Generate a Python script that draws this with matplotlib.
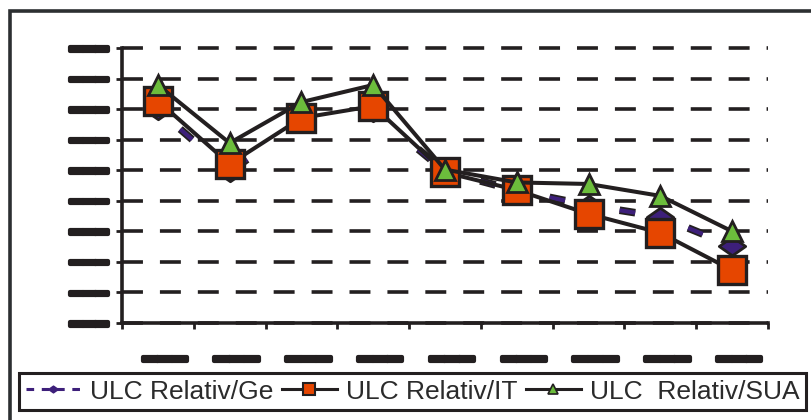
import numpy as np
import matplotlib.pyplot as plt
import matplotlib.patheffects as pe
import matplotlib.transforms as mtransforms
from matplotlib.lines import Line2D
from matplotlib.patches import Rectangle
from matplotlib.path import Path

# category / axis labels (rendered as solid bars)
periods = ["━━━"] * 9
y_ticks = [0, 1, 2, 3, 4, 5, 6, 7, 8, 9]
y_tick_labels = ["━━━"] * 10

# series
ulc_ge = [6.98, 4.94, 6.65, 6.91, 4.96, 4.33, 3.85, 3.48, 2.52]
ulc_it = [7.27, 5.20, 6.71, 7.10, 4.93, 4.35, 3.57, 2.95, 1.73]
ulc_sua = [7.79, 5.89, 7.23, 7.79, 5.02, 4.60, 4.55, 4.16, 3.00]
series_labels = ["ULC Relativ/Ge", "ULC Relativ/IT", "ULC  Relativ/SUA"]

DARK = "#231f20"
PURPLE = "#3d1f7a"
ORANGE = "#e64600"
GREEN = "#6cbd3c"

plt.rcParams["font.family"] = ["Liberation Sans", "DejaVu Sans"]

diamond = Path([(-1, 0), (0, 0.7), (1, 0), (0, -0.7), (-1, 0)],
               [Path.MOVETO, Path.LINETO, Path.LINETO, Path.LINETO, Path.CLOSEPOLY])
bold_bar = [pe.withStroke(linewidth=3, foreground=DARK)]

W, H = 811, 420
fig = plt.figure(figsize=(W / 100, H / 100), dpi=100)
ax = fig.add_axes([122 / W, 97 / H, 646 / W, 275 / H])

x = np.arange(len(periods)) + 0.5

# Ge: dashed purple line with dark outline
ax.plot(x, ulc_ge, color=PURPLE, lw=3, linestyle=(10, (3.8, 13.3)),
        path_effects=[pe.Stroke(linewidth=5.5, foreground=DARK), pe.Normal()],
        zorder=3, clip_on=False)
ax.plot(x, ulc_ge, linestyle="none", marker=diamond, ms=19, mfc=PURPLE,
        mec=DARK, mew=2, zorder=3.5, clip_on=False)

ax.plot(x, ulc_it, color=DARK, lw=2.9, marker="s", ms=20.5, mfc=ORANGE,
        mec=DARK, mew=2.4, zorder=4, clip_on=False)
ax.plot(x, ulc_sua, color=DARK, lw=2.9, marker="^", ms=14, mfc=GREEN,
        mec=DARK, mew=2, zorder=5, clip_on=False)

ax.set_xlim(0, 9)
ax.set_ylim(0, 9)

for side in ["top", "right"]:
    ax.spines[side].set_visible(False)
for side in ["left", "bottom"]:
    ax.spines[side].set_linewidth(2.6)
    ax.spines[side].set_color(DARK)

ax.set_yticks(y_ticks)
ax.set_yticklabels(y_tick_labels, fontfamily="DejaVu Sans", fontsize=15, color=DARK)
ax.tick_params(axis="y", direction="out", length=4, width=2, color=DARK, pad=6)
for lab in ax.get_yticklabels():
    lab.set_path_effects(bold_bar)

ax.set_xticks(np.arange(10))
ax.set_xticklabels([])
ax.set_xticks(x, minor=True)
ax.set_xticklabels(periods, minor=True, fontfamily="DejaVu Sans", fontsize=17.5, color=DARK)
ax.tick_params(axis="x", which="major", direction="out", length=4, width=2, color=DARK)
ax.tick_params(axis="x", which="minor", length=0, pad=18)
shift = mtransforms.ScaledTranslation(0.07, 0, fig.dpi_scale_trans)
for lab in ax.get_xticklabels(minor=True):
    lab.set_transform(lab.get_transform() + shift)
    lab.set_path_effects(bold_bar)

ax.grid(axis="y", color=DARK, lw=2.6, linestyle=(0, (5.8, 4.7)))
ax.grid(axis="x", visible=False)
for gl in ax.get_ygridlines():
    gl.set_clip_on(False)
ax.set_axisbelow(True)

# legend
handles = [
    Line2D([], [], color=PURPLE, lw=2.2, linestyle=(0, (2.5, 2.5)), marker=diamond,
           ms=7, mfc=PURPLE, mec=PURPLE),
    Line2D([], [], color=DARK, lw=2.2, marker="s", ms=8, mfc=ORANGE, mec=DARK, mew=1.5),
    Line2D([], [], color=DARK, lw=2.2, marker="^", ms=7, mfc=GREEN, mec=DARK, mew=1.2),
]
leg = fig.legend(handles, series_labels, loc="upper left",
                 bbox_to_anchor=(19 / W, 1 - 373 / H), ncol=3, fontsize=19,
                 frameon=True, fancybox=False, framealpha=1, edgecolor=DARK,
                 handlelength=2.1, handletextpad=0.35, columnspacing=0.3,
                 borderpad=0.25, borderaxespad=0)
leg.get_frame().set_linewidth(2.2)
for t in leg.get_texts():
    t.set_color("#2b2b2b")

# outer chart border
fig.patches.append(Rectangle((10 / W, -0.5), 2, 1.5 - 11 / H, transform=fig.transFigure,
                             fill=False, lw=2.6, edgecolor="#2c2f31"))

fig.savefig("out.png", dpi=100)
